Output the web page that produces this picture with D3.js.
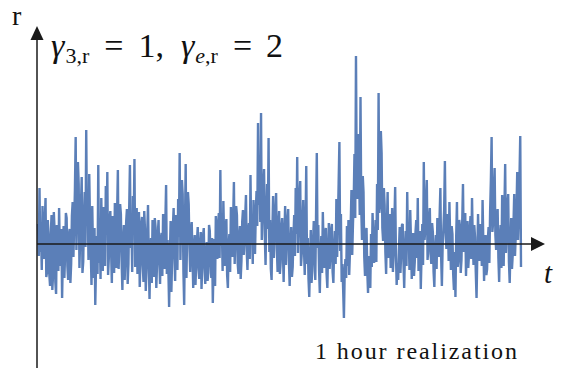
<!DOCTYPE html>
<html>
<head>
<meta charset="utf-8">
<script src="https://cdn.jsdelivr.net/npm/d3@7"></script>
<style>
  body { margin: 0; background: #fff; }
  svg { display: block; }
</style>
</head>
<body>
<svg id="chart" width="565" height="376"></svg>
<script>
const rValues = [
  2.0,-1.2, 5.6,-0.8, 1.2,-2.6, 3.8,0.4, -1.5,2.2, 4.6,-3.3, -2.8,2.4, 0.6,-3.0, -4.2,1.1, 2.9,-4.6,
  -3.1,3.2, 1.4,-3.8, -5.0,1.9, 0.3,-2.7, 3.6,-0.9, -2.2,1.5, -5.4,-1.0, 1.8,-3.4, -1.0,3.1, 2.6,-2.2,
  -3.6,0.9, 1.5,-3.9, -2.0,2.8, 4.2,-1.3, 2.0,5.4, 10.7,-0.6, 3.5,8.2, 6.0,-2.4, 0.8,3.9, 6.7,-2.9,
  -1.8,2.6, 5.2,-0.3, 11.4,1.8, 4.0,-1.6, 7.0,2.3, -0.5,-4.1, 3.8,-0.7, -3.4,1.6, -6.1,-2.2, 0.8,-3.0,
  7.9,-1.9, 1.2,-3.5, 4.6,0.2, -2.7,3.7, 2.0,-2.2, 5.8,0.9, 7.2,-3.1, -1.4,2.5, 3.3,-0.6, -3.9,2.8,
  1.6,-2.9, 4.1,-1.0, -2.4,3.1, 7.4,-2.5, 0.4,4.0, 3.0,-1.8, -4.6,0.3, 1.9,-3.6, -1.2,2.2, 3.5,-4.0,
  -2.0,3.4, 7.9,-0.4, 2.2,-2.8, 4.8,1.7, 8.5,-2.3, 1.0,3.6, -3.0,0.2, 3.2,-4.3, -1.6,2.0, 2.7,-2.1,
  -3.8,3.3, 1.4,-4.7, -2.6,1.2, 3.9,-1.5, -5.5,-0.8, 0.6,-3.9, 2.4,0.1, -3.3,2.6, 1.7,-4.4, -1.9,1.0,
  2.4,-1.7, -4.0,0.5, 1.1,-3.2, 3.0,0.6, -2.5,2.1, 5.9,-3.0, 0.4,-2.4, -6.3,-1.2, 2.3,-4.8, -1.4,1.7,
  3.6,-0.9, -3.7,2.9, 1.8,-2.6, 4.5,0.7, 9.1,-1.6, 2.6,6.4, 5.0,-2.8, -6.1,1.3, 8.0,-3.4, 1.5,5.2,
  4.0,-0.3, -2.8,1.4, 2.2,-1.1, -4.4,-0.6, 0.9,-4.1, -1.8,0.4, 1.7,-2.5, -3.5,0.0, 1.2,-4.5, -2.1,0.8,
  1.6,-2.3, -4.0,-1.0, 0.2,-3.7, -2.9,1.9, 1.3,-1.6, -3.4,0.6, -5.9,-2.0, 0.5,-4.2, 2.8,-0.2, -1.5,2.0,
  3.1,-1.4, 7.4,-0.2, 1.9,-2.7, 4.3,0.5, -2.2,1.6, 2.5,-3.1, -4.4,-0.1, 1.0,-2.8, 3.7,0.9, -1.3,2.4,
  6.2,-2.0, 0.7,3.8, 2.9,-1.9, -3.0,0.8, 1.8,-3.5, -1.7,2.2, 3.4,-1.1, 0.3,2.7, 4.9,-0.7, -2.6,1.2,
  2.1,-1.5, 6.9,0.1, 1.6,-2.0, 4.4,1.3, -1.0,3.0, 5.3,1.8, 12.1,3.9, 6.8,2.2, 13.1,0.4, 3.2,5.8,
  7.5,0.9, -2.1,2.7, 6.0,1.5, 10.6,-0.8, 2.4,-2.5, -3.6,1.1, 4.8,-1.4, 1.0,3.3, 5.1,-0.5, -2.8,1.9,
  3.3,-3.0, -1.9,1.7, 2.6,-0.6, -3.8,0.9, 3.8,-2.1, 0.5,2.4, 3.5,-1.7, -4.2,-0.3, 1.7,-3.3, -2.3,0.6,
  2.9,-1.2, 5.6,1.0, 8.7,-0.9, 2.8,4.7, 6.3,-2.2, -1.0,2.0, 4.4,-0.4, -3.1,1.4, 7.8,-2.0, 0.6,-3.5,
  -5.3,-1.7, 1.4,-3.9, -2.7,0.2, 2.3,-1.0, -3.6,2.7, 9.1,-0.4, 1.9,-2.6, -4.9,-0.9, 0.8,-2.9, 3.2,-0.2,
  -2.4,1.0, 1.6,-3.0, -4.4,-0.6, 2.1,-2.5, -1.2,1.4, 2.0,-2.8, -3.9,-0.4, 1.3,-2.0, 4.5,-1.3, 2.2,6.1,
  10.2,-0.7, 3.0,-3.8, -2.0,-4.6, -7.4,-2.9, -1.5,-3.4, 1.8,-2.2, 2.4,-3.1, -0.8,1.9, 5.4,-1.1, 2.0,4.3,
  9.0,2.6, 18.8,6.2, 4.5,11.0, 8.1,2.9, 14.7,3.6, 0.4,6.8, 5.2,-1.3, -3.2,0.9, 1.6,-2.7, -4.9,-1.2,
  -2.6,-4.4, 1.0,-2.3, 3.1,0.4, -1.9,-0.3, 2.4,-1.8, 6.0,1.4, 15.1,3.1, 4.0,11.3, 9.1,1.6, 0.3,5.6,
  3.9,-0.8, -3.0,1.7, 5.2,-1.4, 1.2,3.0, -2.4,0.3, 3.6,-2.8, -1.0,2.2, 5.7,-0.9, -4.1,-1.9, -3.6,-0.6,
  1.7,-2.9, -0.9,1.9, 2.0,-1.8, -4.4,-0.7, 1.3,-2.2, 5.2,0.0, 0.8,-2.6, 3.4,0.2, -3.5,-1.0, 1.1,-3.2,
  -1.8,1.2, 2.4,-1.4, 4.6,-2.7, -0.7,1.3, -4.5,-1.2, 2.0,-2.1, 8.2,0.4, 1.5,4.1, 6.4,-1.6, -0.4,2.5,
  3.6,-1.0, -2.0,2.1, 1.2,-2.8, -4.3,-0.4, 0.9,-2.5, 2.6,0.3, -1.3,2.8, 5.6,-1.2, -4.2,-0.2, 1.5,3.4,
  8.3,1.1, -0.5,3.0, 2.4,-1.7, 4.2,0.6, -2.6,1.8, 1.0,-3.0, -4.6,-0.8, -5.3,0.7, 4.2,-2.3, -1.4,2.4,
  1.8,-2.9, -1.6,2.2, 6.0,-0.8, 0.5,3.1, -3.2,-0.5, 2.3,-2.4, -1.0,1.5, 2.8,-1.5, 4.6,0.3, -2.1,1.9,
  0.7,-2.8, -5.4,-1.1, 3.0,-0.6, -1.7,2.0, 1.4,-2.2, 4.4,0.1, -3.7,-0.7, 0.9,-3.1, -2.5,0.5, 1.7,-1.9,
  3.2,6.3, 10.7,1.2, 2.1,5.0, 7.6,0.9, -0.6,2.4, 3.5,-1.4, -3.8,0.6, 1.9,-2.4, 4.9,0.8, -2.2,3.5,
  8.0,-0.9, 1.2,3.9, 5.0,-1.8, -3.9,-0.3, 2.6,-2.5, -1.1,1.8, 5.0,-1.2, 0.8,3.3, 7.2,0.4, 2.7,6.7,
  10.8,-2.3
];
const timeIndex = rValues.map((d, i) => i);

const axisLabelY = 'r';
const axisLabelX = 't';
const noteText = '1 hour realization';

const serif = "'Liberation Serif', 'DejaVu Serif', serif";

const svg = d3.select('#chart');

const x = d3.scaleLinear()
  .domain([0, timeIndex.length - 1])
  .range([38, 521]);

const y = d3.scaleLinear()
  .domain([-12.4, 21.6])
  .range([368, 28]);

// the series
const line = d3.line()
  .x((d, i) => x(timeIndex[i]))
  .y(d => y(d));

svg.append('path')
  .datum(rValues)
  .attr('fill', 'none')
  .attr('stroke', '#5b7fb8')
  .attr('stroke-width', 2.4)
  .attr('stroke-linejoin', 'bevel')
  .attr('d', line);

// axes drawn as arrows
const x0 = 37;
const yZero = y(0);
const axisColor = '#1a1a1a';

svg.append('line')
  .attr('x1', x0).attr('y1', 368)
  .attr('x2', x0).attr('y2', 38)
  .attr('stroke', axisColor)
  .attr('stroke-width', 1.5);

svg.append('path')
  .attr('d', 'M' + (x0 - 6.5) + ',' + 40 + 'L' + x0 + ',' + 26 + 'L' + (x0 + 6.5) + ',' + 40 + 'Z')
  .attr('fill', axisColor);

svg.append('line')
  .attr('x1', x0).attr('y1', yZero)
  .attr('x2', 533).attr('y2', yZero)
  .attr('stroke', axisColor)
  .attr('stroke-width', 1.5);

svg.append('path')
  .attr('d', 'M' + 531 + ',' + (yZero - 7) + 'L' + 545 + ',' + yZero + 'L' + 531 + ',' + (yZero + 7) + 'Z')
  .attr('fill', axisColor);

// labels
svg.append('text')
  .attr('x', 12)
  .attr('y', 25)
  .attr('font-family', serif)
  .attr('font-size', 28)
  .attr('fill', '#111')
  .text(axisLabelY);

svg.append('text')
  .attr('x', 544)
  .attr('y', 283)
  .attr('font-family', serif)
  .attr('font-size', 29)
  .attr('font-style', 'italic')
  .attr('fill', '#111')
  .text(axisLabelX);

const title = svg.append('text')
  .attr('x', 51)
  .attr('y', 57)
  .attr('font-family', serif)
  .attr('font-size', 34)
  .attr('fill', '#111');

title.append('tspan').attr('font-style', 'italic').text('γ');
title.append('tspan').attr('font-size', 22).attr('dy', 6).attr('dx', 1).text('3,r');
title.append('tspan').attr('dy', -6).attr('dx', 15).text('=');
title.append('tspan').attr('dx', 15).text('1,');
title.append('tspan').attr('dx', 17).attr('font-style', 'italic').text('γ');
title.append('tspan').attr('font-size', 22).attr('font-style', 'italic').attr('dy', 6).attr('dx', 1).text('e');
title.append('tspan').attr('font-size', 22).text(',r');
title.append('tspan').attr('dy', -6).attr('dx', 15).text('=');
title.append('tspan').attr('dx', 14).text('2');

svg.append('text')
  .attr('x', 315)
  .attr('y', 359)
  .attr('font-family', serif)
  .attr('font-size', 24)
  .attr('fill', '#111')
  .attr('textLength', 202)
  .attr('lengthAdjust', 'spacing')
  .text(noteText);
</script>
</body>
</html>
